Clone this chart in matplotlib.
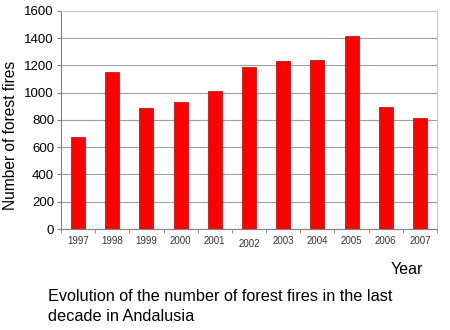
import numpy as np
import matplotlib.pyplot as plt

YEARS = ['1997', '1998', '1999', '2000', '2001', '2002', '2003', '2004', '2005', '2006', '2007']
FIRES = [677, 1152, 890, 930, 1012, 1189, 1233, 1240, 1414, 893, 817]

plt.rcParams['font.family'] = ['Liberation Sans', 'DejaVu Sans']

fig = plt.figure(figsize=(4.5, 3.3), dpi=100)
ax = fig.add_axes([0.1356, 0.306, 0.8354, 0.661])

x = np.arange(len(YEARS))
ax.bar(x, FIRES, width=0.41, color='#ff0000', edgecolor='#c00000', linewidth=0.5, zorder=3)

ax.set_xlim(-0.5, len(YEARS) - 0.5)
ax.set_ylim(0, 1600)
ax.set_yticks(range(0, 1601, 200))
ax.tick_params(axis='y', labelsize=9.5, length=3, color='#808080', pad=2)
ax.yaxis.grid(True, color='#a0a0a0', linewidth=0.8, zorder=0)

ax.set_xticks(x)
ax.set_xticklabels(YEARS)
ax.tick_params(axis='x', length=0, labelsize=7, pad=5, colors='#333333')
for lab, yr in zip(ax.get_xticklabels(), YEARS):
    if yr == '2002':
        lab.set_y(-0.012)
ax.set_xticks(np.arange(-0.5, len(YEARS)), minor=True)
ax.tick_params(axis='x', which='minor', length=3, color='#808080')

for side in ['top', 'right']:
    ax.spines[side].set_color('#c8c8c8')
for side in ['left', 'bottom']:
    ax.spines[side].set_color('#808080')

ax.set_ylabel('Number of forest fires', fontsize=11.2)
ax.yaxis.set_label_coords(-0.114, 0.427)

fig.text(0.904, 0.182, 'Year', fontsize=11.5, ha='center', va='center')
fig.text(0.107, 0.125, 'Evolution of the number of forest fires in the last\ndecade in Andalusia',
         fontsize=11.7, ha='left', va='top', linespacing=1.45)

fig.savefig('out.png', dpi=100)
